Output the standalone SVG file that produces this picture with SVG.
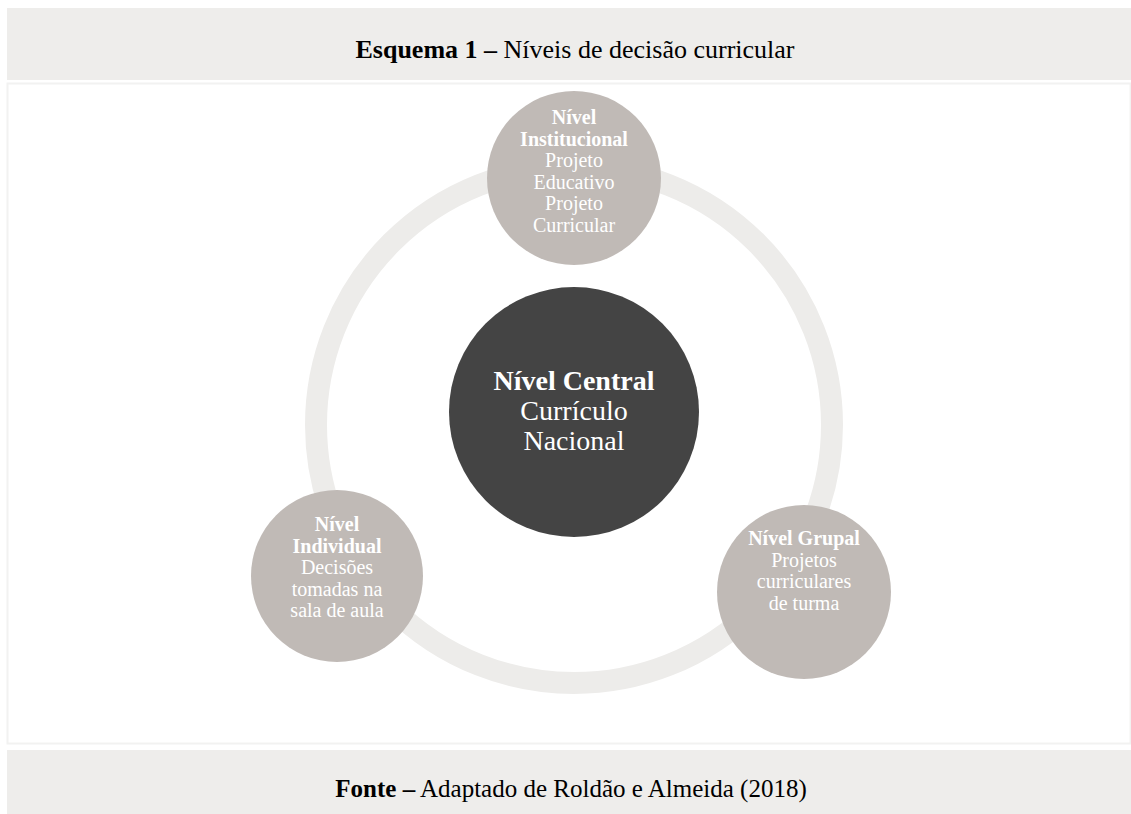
<svg xmlns="http://www.w3.org/2000/svg" width="1131" height="814" viewBox="0 0 1131 814">
<style>
.band{fill:#eeedeb}
.t{font-family:"Liberation Serif","Times New Roman",serif;fill:#000;text-anchor:middle}
.n{font-family:"Liberation Serif","Times New Roman",serif;fill:#ffffff;text-anchor:middle;font-size:20px}
.c{font-size:28px}
.b{font-weight:bold}
.small{fill:#c0bab6}
</style>
<rect width="1131" height="814" fill="#ffffff"/>
<rect class="band" x="7" y="8" width="1124" height="72"/>
<text class="t" x="575" y="58" font-size="26"><tspan class="b">Esquema 1 –</tspan> Níveis de decisão curricular</text>
<rect x="7.5" y="83.5" width="1123" height="660" fill="#ffffff" stroke="#f2f2f1" stroke-width="2"/>
<g id="connectors">
<circle cx="574" cy="425" r="258" fill="none" stroke="#edecea" stroke-width="22"/>
</g>
<g id="central">
<circle cx="574" cy="412" r="125" fill="#444444"/>
<text class="n c"><tspan x="574" y="390" class="b">Nível Central</tspan><tspan x="574" y="420">Currículo</tspan><tspan x="574" y="450">Nacional</tspan></text>
</g>
<g id="institucional">
<circle class="small" cx="574" cy="178" r="87"/>
<text class="n"><tspan x="574" y="124" class="b">Nível</tspan><tspan x="574" y="145.5" class="b">Institucional</tspan><tspan x="574" y="167">Projeto</tspan><tspan x="574" y="188.5">Educativo</tspan><tspan x="574" y="210">Projeto</tspan><tspan x="574" y="231.5">Curricular</tspan></text>
</g>
<g id="individual">
<circle class="small" cx="337" cy="576" r="86"/>
<text class="n"><tspan x="337" y="531" class="b">Nível</tspan><tspan x="337" y="552.5" class="b">Individual</tspan><tspan x="337" y="574">Decisões</tspan><tspan x="337" y="595.5">tomadas na</tspan><tspan x="337" y="617">sala de aula</tspan></text>
</g>
<g id="grupal">
<circle class="small" cx="804" cy="592" r="87"/>
<text class="n"><tspan x="804" y="545" class="b">Nível Grupal</tspan><tspan x="804" y="566.5">Projetos</tspan><tspan x="804" y="588">curriculares</tspan><tspan x="804" y="609.5">de turma</tspan></text>
</g>
<rect class="band" x="7" y="750" width="1124" height="64"/>
<text class="t" x="571" y="797" font-size="25"><tspan class="b">Fonte –</tspan> Adaptado de Roldão e Almeida (2018)</text>
</svg>
